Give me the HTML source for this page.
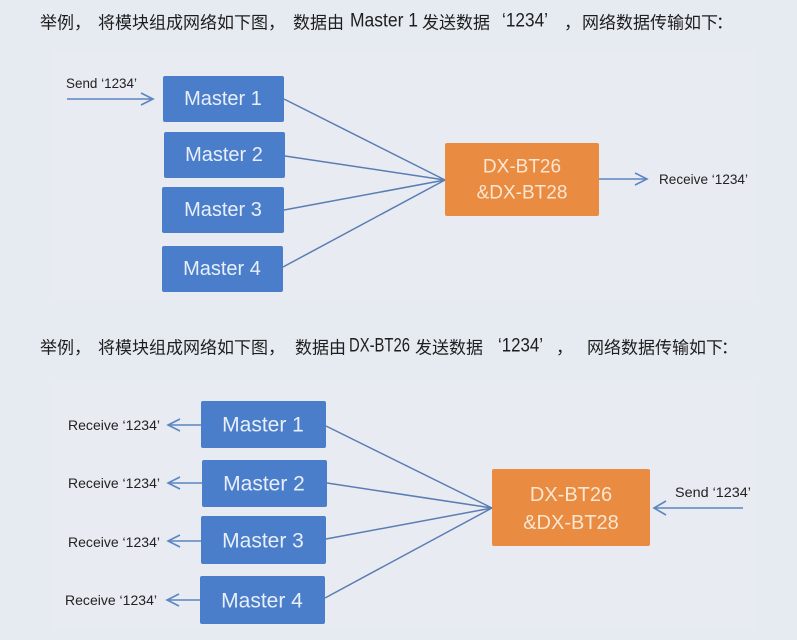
<!DOCTYPE html>
<html>
<head>
<meta charset="utf-8">
<style>
  html,body{margin:0;padding:0;background:#e6eaf1;}
  svg{display:block;}
  .t{font-family:"Noto Sans CJK SC","WenQuanYi Zen Hei",sans-serif;font-size:17px;fill:#1e1e1e;}
  .tl{font-family:"Liberation Sans","Noto Sans CJK SC",sans-serif;font-size:19px;fill:#1e1e1e;}
  .lbl{font-family:"Liberation Sans","Noto Sans CJK SC",sans-serif;font-size:14px;fill:#222;}
  .bx{font-family:"Liberation Sans",sans-serif;font-size:20px;fill:#e9eff9;}
  .ox{font-family:"Liberation Sans",sans-serif;font-size:19px;fill:#fbe6d4;}
</style>
</head>
<body>
<svg width="797" height="640" viewBox="0 0 797 640" xmlns="http://www.w3.org/2000/svg">
  <rect x="0" y="0" width="797" height="640" fill="#e6eaf1"/>
  <!-- subtle panels -->
  <rect x="52" y="50" width="703" height="250" fill="#e8ebf2"/>
  <rect x="52" y="380" width="703" height="250" fill="#e8ebf2"/>

  <!-- Title 1 -->
  <g dominant-baseline="central">
    <text class="t" x="40" y="21">举例</text>
    <text class="t" x="74" y="21">，</text>
    <text class="t" x="98" y="21" textLength="170" lengthAdjust="spacingAndGlyphs">将模块组成网络如下图</text>
    <text class="t" x="268" y="21">，</text>
    <text class="t" x="293" y="21" textLength="51" lengthAdjust="spacingAndGlyphs">数据由</text>
    <text class="tl" x="350" y="21" textLength="68" lengthAdjust="spacingAndGlyphs">Master 1</text>
    <text class="t" x="422" y="21" textLength="68" lengthAdjust="spacingAndGlyphs">发送数据</text>
    <text class="tl" x="502" y="21" textLength="46" lengthAdjust="spacingAndGlyphs">‘1234’</text>
    <text class="t" x="564" y="21">，</text>
    <text class="t" x="582" y="21" textLength="136" lengthAdjust="spacingAndGlyphs">网络数据传输如下</text>
    <text class="t" x="716" y="21">：</text>
  </g>

  <!-- Title 2 -->
  <g dominant-baseline="central">
    <text class="t" x="40" y="346">举例</text>
    <text class="t" x="74" y="346">，</text>
    <text class="t" x="98" y="346" textLength="170" lengthAdjust="spacingAndGlyphs">将模块组成网络如下图</text>
    <text class="t" x="268" y="346">，</text>
    <text class="t" x="295" y="346" textLength="51" lengthAdjust="spacingAndGlyphs">数据由</text>
    <text class="tl" x="349" y="346" textLength="61" lengthAdjust="spacingAndGlyphs">DX-BT26</text>
    <text class="t" x="415" y="346" textLength="68" lengthAdjust="spacingAndGlyphs">发送数据</text>
    <text class="tl" x="498" y="346" textLength="45" lengthAdjust="spacingAndGlyphs">‘1234’</text>
    <text class="t" x="556" y="346">，</text>
    <text class="t" x="587" y="346" textLength="136" lengthAdjust="spacingAndGlyphs">网络数据传输如下</text>
    <text class="t" x="721" y="346">：</text>
  </g>

  <!-- ===== Top diagram ===== -->
  <g stroke="#5a7db3" stroke-width="1.5" fill="none">
    <line x1="284" y1="99" x2="445" y2="180"/>
    <line x1="285" y1="156" x2="445" y2="180"/>
    <line x1="284" y1="210" x2="445" y2="180"/>
    <line x1="283" y1="267" x2="445" y2="180"/>
  </g>
  <g stroke="#5b86c2" stroke-width="1.6" fill="none">
    <line x1="67" y1="99" x2="152" y2="99"/>
    <polyline points="141,93 153,99 141,105"/>
    <line x1="599" y1="179" x2="646" y2="179"/>
    <polyline points="635,173 647,179 635,185"/>
  </g>
  <g fill="#4a7ecb">
    <rect x="163" y="76" width="121" height="46" rx="2"/>
    <rect x="164" y="132" width="121" height="46" rx="2"/>
    <rect x="162" y="187" width="122" height="46" rx="2"/>
    <rect x="162" y="246" width="121" height="46" rx="2"/>
  </g>
  <rect x="445" y="143" width="154" height="73" rx="2" fill="#e98b40"/>
  <g dominant-baseline="central" text-anchor="middle">
    <text class="bx" x="223" y="99">Master 1</text>
    <text class="bx" x="224" y="155">Master 2</text>
    <text class="bx" x="223" y="210">Master 3</text>
    <text class="bx" x="222" y="269">Master 4</text>
    <text class="ox" x="522" y="167">DX-BT26</text>
    <text class="ox" x="522" y="193">&amp;DX-BT28</text>
  </g>
  <g dominant-baseline="central">
    <text class="lbl" x="66" y="83" textLength="71" lengthAdjust="spacingAndGlyphs">Send ‘1234’</text>
    <text class="lbl" x="659" y="179" textLength="89" lengthAdjust="spacingAndGlyphs">Receive ‘1234’</text>
  </g>

  <!-- ===== Bottom diagram ===== -->
  <g stroke="#5a7db3" stroke-width="1.5" fill="none">
    <line x1="326" y1="426" x2="492" y2="508"/>
    <line x1="327" y1="483" x2="492" y2="508"/>
    <line x1="326" y1="539" x2="492" y2="508"/>
    <line x1="325" y1="598" x2="492" y2="508"/>
  </g>
  <g stroke="#5b86c2" stroke-width="1.6" fill="none">
    <line x1="201" y1="425" x2="169" y2="425"/>
    <polyline points="180,419 168,425 180,431"/>
    <line x1="202" y1="483" x2="169" y2="483"/>
    <polyline points="180,477 168,483 180,489"/>
    <line x1="201" y1="541" x2="169" y2="541"/>
    <polyline points="180,535 168,541 180,547"/>
    <line x1="200" y1="600" x2="168" y2="600"/>
    <polyline points="179,594 167,600 179,606"/>
    <line x1="743" y1="508" x2="655" y2="508"/>
    <polyline points="666,501 654,508 666,515"/>
  </g>
  <g fill="#4a7ecb">
    <rect x="201" y="401" width="125" height="47" rx="2"/>
    <rect x="202" y="460" width="125" height="47" rx="2"/>
    <rect x="201" y="516" width="125" height="48" rx="2"/>
    <rect x="200" y="576" width="125" height="48" rx="2"/>
  </g>
  <rect x="492" y="469" width="158" height="77" rx="2" fill="#e98b40"/>
  <g dominant-baseline="central" text-anchor="middle">
    <text class="bx" x="263" y="425" style="font-size:21px">Master 1</text>
    <text class="bx" x="264" y="484" style="font-size:21px">Master 2</text>
    <text class="bx" x="263" y="541" style="font-size:21px">Master 3</text>
    <text class="bx" x="262" y="601" style="font-size:21px">Master 4</text>
    <text class="ox" x="571" y="495" style="font-size:20px">DX-BT26</text>
    <text class="ox" x="571" y="523" style="font-size:20px">&amp;DX-BT28</text>
  </g>
  <g dominant-baseline="central">
    <text class="lbl" x="68" y="425" textLength="92" lengthAdjust="spacingAndGlyphs">Receive ‘1234’</text>
    <text class="lbl" x="68" y="483" textLength="92" lengthAdjust="spacingAndGlyphs">Receive ‘1234’</text>
    <text class="lbl" x="68" y="542" textLength="92" lengthAdjust="spacingAndGlyphs">Receive ‘1234’</text>
    <text class="lbl" x="65" y="600" textLength="92" lengthAdjust="spacingAndGlyphs">Receive ‘1234’</text>
    <text class="lbl" x="675" y="492" textLength="76" lengthAdjust="spacingAndGlyphs">Send ‘1234’</text>
  </g>
</svg>
</body>
</html>
